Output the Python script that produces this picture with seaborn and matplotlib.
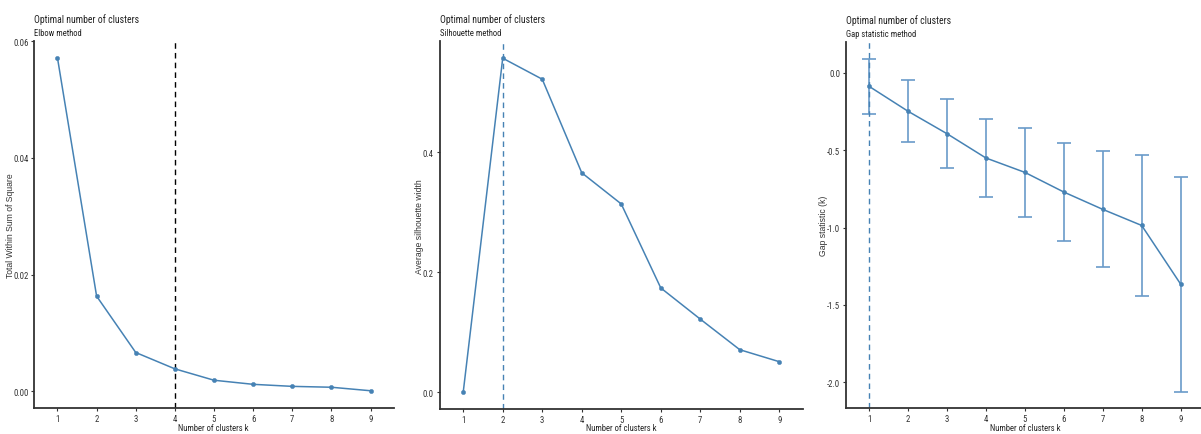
import matplotlib
matplotlib.use("Agg")
import matplotlib.pyplot as plt
import seaborn as sns
import pandas as pd
import numpy as np
from matplotlib import font_manager

sns.set_theme(style="ticks")
names = {f.name for f in font_manager.fontManager.ttflist}
narrow = next((f for f in ["Liberation Sans Narrow", "Arial Narrow", "Roboto Condensed",
                           "Archivo Narrow", "Liberation Sans"] if f in names), "DejaVu Sans")
plt.rcParams['font.family'] = [narrow, 'DejaVu Sans']
VFAM = ["Liberation Sans", "DejaVu Sans"]

# ---- data ----
k = [1, 2, 3, 4, 5, 6, 7, 8, 9]
wss = [0.0571, 0.0163, 0.00665, 0.00385, 0.0019, 0.0012, 0.00085, 0.0007, 0.0001]
silhouette = [0.0, 0.557, 0.522, 0.366, 0.314, 0.174, 0.122, 0.071, 0.051]
gap = [-0.087, -0.248, -0.393, -0.550, -0.643, -0.770, -0.882, -0.986, -1.365]
gap_se = [0.177, 0.199, 0.223, 0.252, 0.286, 0.319, 0.374, 0.457, 0.695]
best_k = [4, 2, 1]
titles = ["Optimal number of clusters"] * 3
subtitles = ["Elbow method", "Silhouette method", "Gap statistic method"]
ylabels = ["Total Within Sum of Square", "Average silhouette width", "Gap statistic (k)"]
xlabel = "Number of clusters k"
yticks = [[0.00, 0.02, 0.04, 0.06], [0.0, 0.2, 0.4], [-2.0, -1.5, -1.0, -0.5, 0.0]]
yticklabels = [["0.00", "0.02", "0.04", "0.06"], ["0.0", "0.2", "0.4"],
               ["-2.0", "-1.5", "-1.0", "-0.5", "0.0"]]

color = "#4682B4"
W, H = 1201, 435
fig = plt.figure(figsize=(W / 100, H / 100), dpi=100)

# axes positions in pixels: (left, right, top, bottom)
boxes = [(34, 394, 42, 409), (439.5, 803, 42.5, 410), (845.7, 1204, 43.3, 409.3)]
ylabel_x = [11, 419.3, 823]
xlabel_x = [213, 621, 1025]
axes = []
for (l, r, t, b) in boxes:
    ax = fig.add_axes([l / W, 1 - b / H, (r - l) / W, (b - t) / H])
    axes.append(ax)

df = pd.DataFrame({"k": k, "wss": wss, "sil": silhouette, "gap": gap, "se": gap_se})

# Elbow
ax = axes[0]
sns.lineplot(data=df, x="k", y="wss", ax=ax, color=color, lw=1.1)
sns.scatterplot(data=df, x="k", y="wss", ax=ax, color=color, s=10, edgecolor=color, zorder=3)
ax.axvline(best_k[0], color="black", ls=(0, (4, 3)), lw=1.0)
ymax = max(wss); rng = ymax - 0
ax.set_ylim(0 - 0.05 * rng, ymax + 0.05 * rng)

# Silhouette
ax = axes[1]
sns.lineplot(data=df, x="k", y="sil", ax=ax, color=color, lw=1.1)
sns.scatterplot(data=df, x="k", y="sil", ax=ax, color=color, s=10, edgecolor=color, zorder=3)
ax.axvline(best_k[1], color=color, ls=(0, (4, 3)), lw=1.0)
ymax = max(silhouette); rng = ymax
ax.set_ylim(-0.05 * rng, ymax + 0.05 * rng)

# Gap
ax = axes[2]
lo = np.array(gap) - np.array(gap_se)
hi = np.array(gap) + np.array(gap_se)
ax.errorbar(k, gap, yerr=gap_se, fmt="none", ecolor="#6a9bc9", elinewidth=1.2,
            capsize=5, capthick=1.2, zorder=2)
sns.lineplot(data=df, x="k", y="gap", ax=ax, color=color, lw=1.1, zorder=3)
sns.scatterplot(data=df, x="k", y="gap", ax=ax, color=color, s=10, edgecolor=color, zorder=4)
ax.axvline(best_k[2], color=color, ls=(0, (4, 3)), lw=1.0)
rng = hi.max() - lo.min()
ax.set_ylim(lo.min() - 0.05 * rng, hi.max() + 0.05 * rng)

for i, ax in enumerate(axes):
    l, r, t, b = boxes[i]
    ax.set_xlim(0.4, 9.6)
    ax.set_xticks(k)
    ax.set_xticklabels([str(v) for v in k], fontsize=6.3, color="#333333")
    ax.set_yticks(yticks[i])
    ax.set_yticklabels(yticklabels[i], fontsize=6.3, color="#333333")
    ax.set_xlabel(xlabel, fontsize=6.2)
    ax.xaxis.set_label_coords((xlabel_x[i] - l) / (r - l), -(428.3 - b) / (b - t))
    ax.xaxis.label.set_va("center")
    ax.set_ylabel(ylabels[i], fontsize=6.2, family=VFAM, color="#333333")
    ax.yaxis.set_label_coords((ylabel_x[i] - l) / (r - l), 0.5)
    ax.yaxis.label.set_va("center")
    for s in ["top", "right"]:
        ax.spines[s].set_visible(False)
    for s in ["left", "bottom"]:
        ax.spines[s].set_linewidth(1.3)
        ax.spines[s].set_color("#333333")
    ax.tick_params(length=2.5, width=0.8, pad=1.5, color="#333333")
    ax.text(0.0, 1.0 + 19.5 / (b - t), titles[i], transform=ax.transAxes,
            fontsize=7.0, ha="left", va="baseline", color="#222222")
    ax.text(0.0, 1.0 + 6 / (b - t), subtitles[i], transform=ax.transAxes,
            fontsize=6.2, ha="left", va="baseline", color="#222222")

fig.savefig("out.png", dpi=100)
